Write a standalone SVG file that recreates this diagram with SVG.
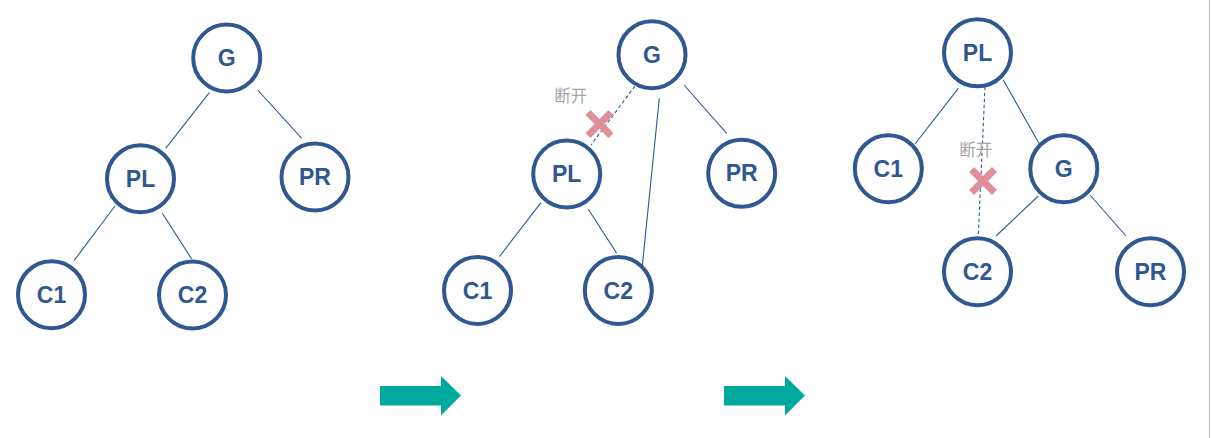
<svg xmlns="http://www.w3.org/2000/svg" width="1211" height="438" viewBox="0 0 1211 438">
<style>
.n circle{fill:#fff;stroke:#2F5892;stroke-width:4}
.n text{font-family:"Liberation Sans",Arial,sans-serif;font-weight:bold;font-size:23px;fill:#2F5892;text-anchor:middle}
.e line{stroke:#2F5892;stroke-width:1.1}
.e .d{stroke-dasharray:3.5 2.5}
.x line{stroke:#DF8F99;stroke-width:7}
.lbl{font-family:"Noto Sans CJK SC",sans-serif;font-size:16.5px;fill:#A6A6A6}
.arr{fill:#00A99D}
</style>
<rect width="1211" height="438" fill="#fff"/>
<line x1="1209.5" y1="0" x2="1209.5" y2="438" stroke="#BFBFBF" stroke-width="1"/>
<g class="e" id="connectors">
<line x1="209.3" y1="92.7" x2="165.7" y2="148.3"/>
<line x1="257.7" y1="90" x2="301.7" y2="138.3"/>
<line x1="115" y1="206" x2="74" y2="260.7"/>
<line x1="162.3" y1="213.3" x2="191.7" y2="259"/>
<line class="d" x1="635" y1="86" x2="591" y2="145"/>
<line x1="684" y1="85" x2="726.7" y2="133.3"/>
<line x1="659.3" y1="98.3" x2="642.3" y2="266"/>
<line x1="541" y1="202.7" x2="499.3" y2="256.7"/>
<line x1="588.3" y1="209.3" x2="616.7" y2="253.3"/>
<line x1="958.3" y1="88.3" x2="915" y2="144"/>
<line x1="1003.3" y1="80" x2="1039" y2="143.3"/>
<line class="d" x1="985" y1="86.7" x2="978.3" y2="236"/>
<line x1="1038.3" y1="196" x2="996" y2="236"/>
<line x1="1090" y1="195" x2="1126" y2="236"/>
</g>
<g class="n" id="t1-G"><circle cx="226.7" cy="58" r="33.5"/><text x="226.7" y="66">G</text></g>
<g class="n" id="t1-PL"><circle cx="140.5" cy="178.7" r="33.5"/><text x="140.5" y="186.7">PL</text></g>
<g class="n" id="t1-PR"><circle cx="315" cy="177" r="33.5"/><text x="315" y="185">PR</text></g>
<g class="n" id="t1-C1"><circle cx="51.5" cy="294.7" r="33.5"/><text x="51.5" y="302.7">C1</text></g>
<g class="n" id="t1-C2"><circle cx="192.5" cy="295" r="33.5"/><text x="192.5" y="303">C2</text></g>
<g class="n" id="t2-G"><circle cx="652" cy="54.7" r="33.5"/><text x="652" y="62.7">G</text></g>
<g class="n" id="t2-PL"><circle cx="566.7" cy="174" r="33.5"/><text x="566.7" y="182">PL</text></g>
<g class="n" id="t2-PR"><circle cx="741.7" cy="173.3" r="33.5"/><text x="741.7" y="181.3">PR</text></g>
<g class="n" id="t2-C1"><circle cx="477.5" cy="290.5" r="33.5"/><text x="477.5" y="298.5">C1</text></g>
<g class="n" id="t2-C2"><circle cx="618.3" cy="290.5" r="33.5"/><text x="618.3" y="298.5">C2</text></g>
<g class="n" id="t3-PL"><circle cx="977.5" cy="52.8" r="33.5"/><text x="977.5" y="60.8">PL</text></g>
<g class="n" id="t3-C1"><circle cx="888.3" cy="168.7" r="33.5"/><text x="888.3" y="176.7">C1</text></g>
<g class="n" id="t3-G"><circle cx="1063.8" cy="168.7" r="33.5"/><text x="1063.8" y="176.7">G</text></g>
<g class="n" id="t3-C2"><circle cx="977.5" cy="271.7" r="33.5"/><text x="977.5" y="279.7">C2</text></g>
<g class="n" id="t3-PR"><circle cx="1150.5" cy="271.7" r="33.5"/><text x="1150.5" y="279.7">PR</text></g>
<g id="cut1"><g class="x"><line x1="588" y1="112.5" x2="611" y2="135.5"/><line x1="611" y1="112.5" x2="588" y2="135.5"/></g><text class="lbl" x="554.3" y="101.5">断开</text></g>
<g id="cut2"><g class="x"><line x1="971.5" y1="169.5" x2="994.5" y2="192.5"/><line x1="994.5" y1="169.5" x2="971.5" y2="192.5"/></g><text class="lbl" x="959.3" y="155.5">断开</text></g>
<g id="arrow1"><polygon class="arr" points="380,386 441,386 441,376 461,395.5 441,415.5 441,405.5 380,405.5"/></g>
<g id="arrow2"><polygon class="arr" points="724,386 785,386 785,376 805,395.5 785,415.5 785,405.5 724,405.5"/></g>
</svg>
